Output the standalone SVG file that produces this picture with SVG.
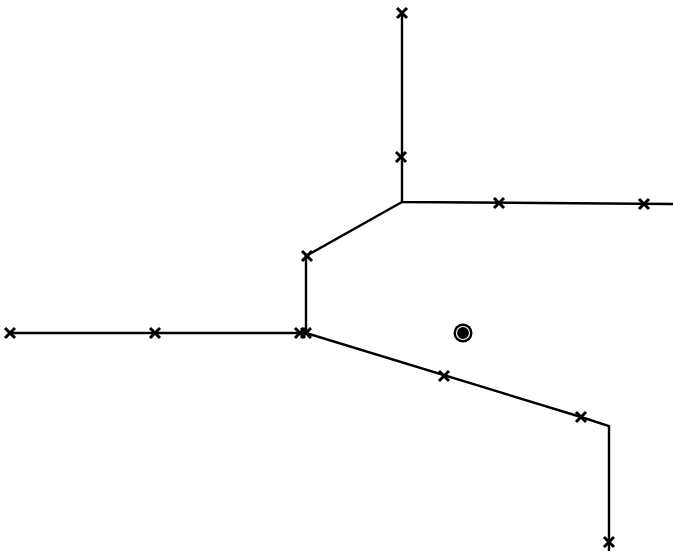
<svg xmlns="http://www.w3.org/2000/svg" width="673" height="554" viewBox="0 0 673 554">
<defs>
<style>
.ln{fill:none;stroke:#000;stroke-width:2.4;stroke-linejoin:miter}
.xm{fill:none;stroke:#000;stroke-width:3}
</style>
<path id="x" class="xm" d="M-5,-5L5,5M5,-5L-5,5"/>
</defs>
<rect width="673" height="554" fill="#fff"/>
<g id="connectors">
<polyline class="ln" points="402,13 402,202 673,204"/>
<polyline class="ln" points="402,202 306,256 306,333"/>
<polyline class="ln" points="10,333 306,333 581,417 609,426 609,551"/>
</g>
<g id="marks">
<use href="#x" x="402" y="13"/>
<use href="#x" x="401" y="157"/>
<use href="#x" x="499" y="203"/>
<use href="#x" x="644" y="204"/>
<use href="#x" x="307" y="256"/>
<use href="#x" x="10" y="333"/>
<use href="#x" x="155" y="333"/>
<use href="#x" x="300" y="333"/>
<use href="#x" x="306" y="333"/>
<use href="#x" x="444" y="376"/>
<use href="#x" x="581" y="417"/>
<use href="#x" x="609" y="542"/>
</g>
<g id="source">
<circle cx="463" cy="333" r="9.5" fill="#000"/>
<circle cx="463" cy="333" r="6.5" fill="none" stroke="#fff" stroke-width="1.2"/>
</g>
</svg>
